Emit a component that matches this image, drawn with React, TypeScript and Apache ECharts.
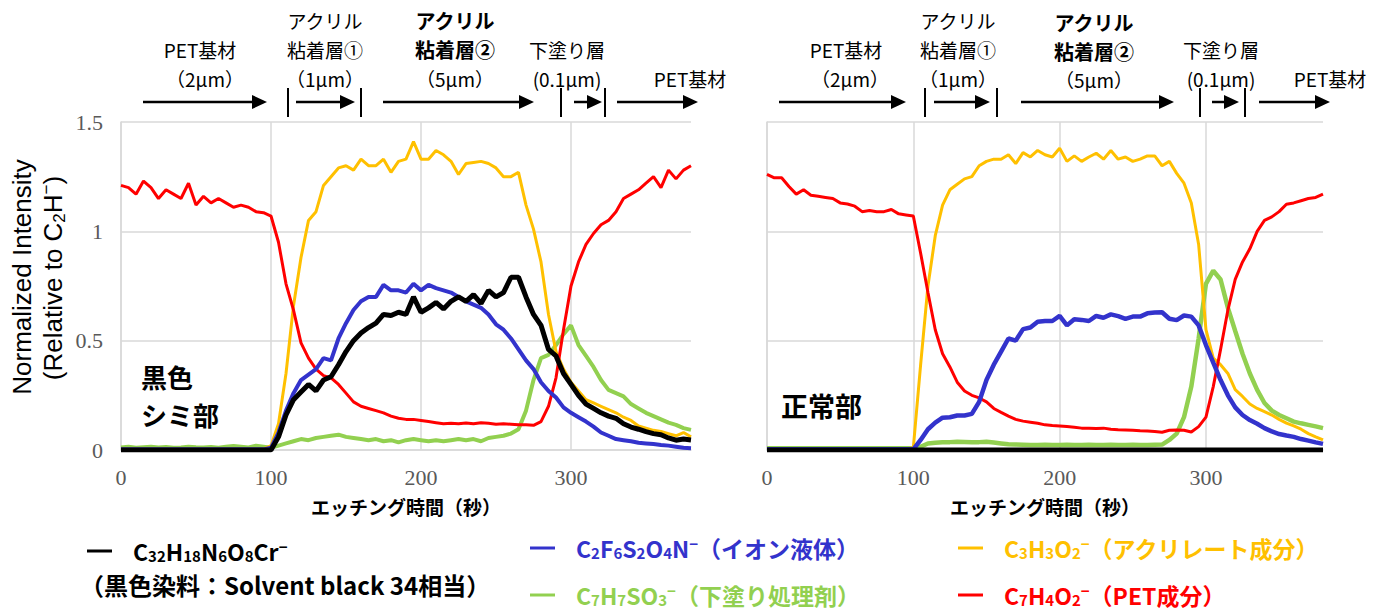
import React, { useEffect, useRef } from "react";
import * as echarts from "echarts";

// ---- data (etching time in seconds, every 5 s) ----
const TIME = [
  0, 5, 10, 15, 20, 25, 30, 35, 40, 45,
  50, 55, 60, 65, 70, 75, 80, 85, 90, 95,
  100, 105, 110, 115, 120, 125, 130, 135, 140, 145,
  150, 155, 160, 165, 170, 175, 180, 185, 190, 195,
  200, 205, 210, 215, 220, 225, 230, 235, 240, 245,
  250, 255, 260, 265, 270, 275, 280, 285, 290, 295,
  300, 305, 310, 315, 320, 325, 330, 335, 340, 345,
  350, 355, 360, 365, 370, 375, 380,
];

// Left panel (黒色シミ部)
const L_PET = [
  1.21, 1.2, 1.17, 1.23, 1.2, 1.15, 1.19, 1.17, 1.15, 1.22,
  1.12, 1.16, 1.13, 1.15, 1.13, 1.11, 1.12, 1.11, 1.09, 1.085,
  1.07, 0.95, 0.76, 0.64, 0.49, 0.42, 0.37, 0.34, 0.33, 0.3,
  0.26, 0.22, 0.2, 0.19, 0.18, 0.17, 0.155, 0.145, 0.14, 0.14,
  0.135, 0.13, 0.125, 0.12, 0.122, 0.12, 0.124, 0.12, 0.125, 0.122,
  0.118, 0.12, 0.118, 0.115, 0.116, 0.113, 0.13, 0.2, 0.33, 0.55,
  0.75, 0.86, 0.94, 0.99, 1.03, 1.05, 1.09, 1.15, 1.17, 1.19,
  1.22, 1.25, 1.2, 1.28, 1.24, 1.28, 1.3,
];
const L_ACRYL = [
  0.005, 0.005, 0.005, 0.005, 0.005, 0.005, 0.005, 0.005, 0.005, 0.005,
  0.005, 0.005, 0.005, 0.005, 0.005, 0.005, 0.005, 0.005, 0.005, 0.005,
  0.02, 0.12, 0.35, 0.66, 0.88, 1.05, 1.09, 1.21, 1.25, 1.29,
  1.3, 1.28, 1.33, 1.3, 1.3, 1.33, 1.27, 1.32, 1.33, 1.41,
  1.33, 1.33, 1.37, 1.35, 1.32, 1.26, 1.31, 1.315, 1.32, 1.31,
  1.29, 1.25, 1.25, 1.27, 1.12, 1.01, 0.86, 0.62, 0.45, 0.37,
  0.31, 0.27, 0.23, 0.215, 0.2, 0.185, 0.17, 0.15, 0.135, 0.11,
  0.1, 0.09, 0.085, 0.075, 0.065, 0.08, 0.06,
];
const L_IONIC = [
  0.003, 0.003, 0.003, 0.003, 0.003, 0.003, 0.003, 0.003, 0.003, 0.003,
  0.003, 0.003, 0.003, 0.003, 0.003, 0.003, 0.003, 0.003, 0.003, 0.003,
  0.01, 0.08, 0.18, 0.26, 0.32, 0.345, 0.37, 0.42, 0.41, 0.51,
  0.58, 0.64, 0.68, 0.7, 0.7, 0.755, 0.73, 0.73, 0.72, 0.76,
  0.73, 0.755, 0.74, 0.73, 0.72, 0.7, 0.68, 0.665, 0.65, 0.62,
  0.575, 0.55, 0.51, 0.46, 0.41, 0.37, 0.31, 0.27, 0.24, 0.195,
  0.17, 0.15, 0.13, 0.107, 0.08, 0.065, 0.05, 0.045, 0.04, 0.033,
  0.03, 0.027, 0.023, 0.02, 0.015, 0.01, 0.008,
];
const L_DYE = [
  0, 0, 0, 0, 0, 0, 0, 0, 0, 0,
  0, 0, 0, 0, 0, 0, 0, 0, 0, 0,
  0, 0.06, 0.16, 0.23, 0.265, 0.3, 0.27, 0.32, 0.335, 0.39,
  0.45, 0.5, 0.535, 0.56, 0.58, 0.62, 0.615, 0.63, 0.62, 0.7,
  0.63, 0.65, 0.675, 0.645, 0.68, 0.7, 0.68, 0.71, 0.67, 0.73,
  0.7, 0.72, 0.79, 0.79, 0.7, 0.62, 0.57, 0.46, 0.43, 0.35,
  0.3, 0.25, 0.21, 0.19, 0.17, 0.155, 0.145, 0.12, 0.105, 0.095,
  0.084, 0.075, 0.07, 0.055, 0.045, 0.05, 0.046,
];
const L_PRIMER = [
  0.012, 0.015, 0.01, 0.013, 0.015, 0.012, 0.014, 0.01, 0.012, 0.015,
  0.013, 0.012, 0.014, 0.01, 0.015, 0.018, 0.015, 0.012, 0.02, 0.015,
  0.01, 0.02, 0.03, 0.04, 0.05, 0.045, 0.055, 0.06, 0.065, 0.07,
  0.06, 0.055, 0.05, 0.045, 0.05, 0.04, 0.045, 0.035, 0.045, 0.05,
  0.045, 0.04, 0.045, 0.04, 0.045, 0.05, 0.045, 0.05, 0.04, 0.055,
  0.06, 0.065, 0.075, 0.095, 0.18, 0.32, 0.42, 0.435, 0.48, 0.53,
  0.57, 0.48, 0.43, 0.38, 0.32, 0.275, 0.26, 0.245, 0.21, 0.19,
  0.17, 0.155, 0.14, 0.125, 0.115, 0.1, 0.092,
];

// Right panel (正常部)
const R_PET = [
  1.26, 1.245, 1.245, 1.205, 1.17, 1.19, 1.165, 1.16, 1.155, 1.15,
  1.13, 1.125, 1.115, 1.09, 1.095, 1.09, 1.09, 1.1, 1.08, 1.075,
  1.07, 0.9, 0.72, 0.55, 0.44, 0.38, 0.31, 0.27, 0.25, 0.238,
  0.22, 0.19, 0.172, 0.155, 0.14, 0.132, 0.127, 0.122, 0.115, 0.112,
  0.11, 0.107, 0.104, 0.1, 0.1, 0.098, 0.1, 0.095, 0.093, 0.092,
  0.09, 0.088, 0.087, 0.085, 0.081, 0.09, 0.092, 0.09, 0.082, 0.107,
  0.15, 0.29, 0.46, 0.64, 0.78, 0.86, 0.92, 1.0, 1.05, 1.066,
  1.09, 1.124, 1.13, 1.14, 1.15, 1.155, 1.17,
];
const R_ACRYL = [
  0.005, 0.005, 0.005, 0.005, 0.005, 0.005, 0.005, 0.005, 0.005, 0.005,
  0.005, 0.005, 0.005, 0.005, 0.005, 0.005, 0.005, 0.005, 0.005, 0.005,
  0.01, 0.39, 0.75, 0.98, 1.12, 1.19, 1.215, 1.24, 1.25, 1.3,
  1.32, 1.33, 1.33, 1.35, 1.31, 1.36, 1.34, 1.37, 1.35, 1.34,
  1.38, 1.32, 1.345, 1.32, 1.34, 1.357, 1.33, 1.37, 1.33, 1.34,
  1.32, 1.33, 1.345, 1.345, 1.3, 1.32, 1.265, 1.22, 1.13, 0.94,
  0.55, 0.42, 0.39, 0.35, 0.276, 0.245, 0.21, 0.19, 0.175, 0.16,
  0.14, 0.123, 0.11, 0.095, 0.075, 0.06, 0.046,
];
const R_IONIC = [
  0.003, 0.003, 0.003, 0.003, 0.003, 0.003, 0.003, 0.003, 0.003, 0.003,
  0.003, 0.003, 0.003, 0.003, 0.003, 0.003, 0.003, 0.003, 0.003, 0.003,
  0.003, 0.046, 0.095, 0.125, 0.148, 0.15, 0.158, 0.158, 0.165, 0.22,
  0.32, 0.39, 0.45, 0.51, 0.5, 0.553, 0.56, 0.587, 0.59, 0.59,
  0.613, 0.57, 0.598, 0.595, 0.59, 0.613, 0.605, 0.62, 0.612, 0.6,
  0.61, 0.61, 0.625, 0.629, 0.63, 0.6, 0.594, 0.615, 0.61, 0.57,
  0.48, 0.4, 0.32, 0.25, 0.195, 0.16, 0.137, 0.12, 0.1, 0.085,
  0.073, 0.066, 0.06, 0.05, 0.043, 0.035, 0.028,
];
const R_DYE = [
  0, 0, 0, 0, 0, 0, 0, 0, 0, 0,
  0, 0, 0, 0, 0, 0, 0, 0, 0, 0,
  0, 0, 0, 0, 0, 0, 0, 0, 0, 0,
  0, 0, 0, 0, 0, 0, 0, 0, 0, 0,
  0, 0, 0, 0, 0, 0, 0, 0, 0, 0,
  0, 0, 0, 0, 0, 0, 0, 0, 0, 0,
  0, 0, 0, 0, 0, 0, 0, 0, 0, 0,
  0, 0, 0, 0, 0, 0, 0,
];
const R_PRIMER = [
  0.008, 0.008, 0.008, 0.008, 0.008, 0.008, 0.008, 0.008, 0.008, 0.008,
  0.008, 0.008, 0.008, 0.008, 0.008, 0.008, 0.008, 0.008, 0.008, 0.008,
  0.008, 0.015, 0.03, 0.033, 0.035, 0.036, 0.038, 0.037, 0.035, 0.036,
  0.038, 0.034, 0.03, 0.026, 0.025, 0.024, 0.023, 0.023, 0.024, 0.023,
  0.023, 0.024, 0.023, 0.023, 0.024, 0.023, 0.023, 0.024, 0.023, 0.023,
  0.024, 0.023, 0.023, 0.024, 0.025, 0.046, 0.075, 0.15, 0.29, 0.51,
  0.76, 0.82, 0.78, 0.65, 0.544, 0.44, 0.35, 0.275, 0.215, 0.18,
  0.16, 0.145, 0.13, 0.122, 0.115, 0.108, 0.1,
];

const X_MAX = 380;
const Y_MAX = 1.5;

const C_DYE = "#000000";
const C_IONIC = "#3333cc";
const C_PRIMER = "#92d050";
const C_ACRYL = "#ffc000";
const C_PET = "#ff0000";

const JP = "'Noto Sans CJK JP', 'Noto Sans', sans-serif";
const SERIF = "'Liberation Serif', 'DejaVu Serif', serif";
const SANS = "'Liberation Sans', Arial, sans-serif";
const GRID_C = "#d9d9d9";
const ANN = 19;

function text(x: number, y: number, t: string, opt: any = {}) {
  const size = opt.fontSize || ANN;
  return {
    type: "text",
    x,
    y,
    silent: true,
    rotation: opt.rotation || 0,
    style: {
      text: t,
      fill: opt.fill || "#000",
      fontSize: size,
      fontFamily: opt.fontFamily || JP,
      fontWeight: opt.fontWeight || "normal",
      lineHeight: opt.lineHeight || Math.round(size * 1.12),
      align: opt.align || "center",
      verticalAlign: "middle",
      textAlign: opt.align || "center",
      textVerticalAlign: "middle",
      rich: opt.rich,
    },
  };
}

function arrow(x1: number, x2: number, y: number) {
  return [
    { type: "line", silent: true, shape: { x1, y1: y, x2: x2 - 10, y2: y }, style: { stroke: "#000", lineWidth: 2.5 } },
    {
      type: "polygon",
      silent: true,
      shape: { points: [[x2 - 15, y - 7], [x2, y], [x2 - 15, y + 7]] },
      style: { fill: "#000" },
    },
  ];
}

function tick(x: number) {
  return { type: "line", silent: true, shape: { x1: x, y1: 88, x2: x, y2: 117 }, style: { stroke: "#000", lineWidth: 2 } };
}

function richStyles(color: string, size: number, family: string, weight: string, lh: number) {
  const sub = Math.round(size * 0.66);
  return {
    n: { fontSize: size, fontFamily: family, fontWeight: weight, fill: color, lineHeight: lh },
    s: { fontSize: sub, fontFamily: family, fontWeight: weight, fill: color, verticalAlign: "bottom" },
    p: { fontSize: sub, fontFamily: family, fontWeight: weight, fill: color, verticalAlign: "top" },
  };
}

function formula(parts: [string, string][]) {
  return parts.map(([k, v]) => `{${k}|${v}}`).join("");
}

function legendItem(x: number, y: number, color: string, parts: [string, string][]) {
  return [
    { type: "line", silent: true, shape: { x1: x, y1: y, x2: x + 25, y2: y }, style: { stroke: color, lineWidth: 3 } },
    text(x + 46, y, formula(parts), { align: "left", fontSize: 23, lineHeight: 24, rich: richStyles(color, 23, JP, "bold", 24) }),
  ];
}

function mkSeries(name: string, values: number[], color: string, width: number, idx: number, z: number) {
  return {
    type: "line",
    name,
    xAxisIndex: idx,
    yAxisIndex: idx,
    data: TIME.map((t, i) => [t, values[i]]),
    symbol: "none",
    showSymbol: false,
    lineStyle: { color, width },
    itemStyle: { color },
    z,
    silent: true,
  };
}

function xAxis(idx: number) {
  return {
    type: "value",
    gridIndex: idx,
    min: 0,
    max: X_MAX,
    interval: 100,
    axisLine: { show: true, lineStyle: { color: GRID_C, width: 1.5 } },
    axisTick: { show: false },
    axisLabel: { color: "#595959", fontSize: 22, fontFamily: SERIF, margin: 16, showMaxLabel: false },
    splitLine: {
      show: true,
      showMaxLine: false,
      lineStyle: { color: [GRID_C, GRID_C, GRID_C, GRID_C, "rgba(0,0,0,0)"], width: 1.5 },
    },
    name: "エッチング時間（秒）",
    nameLocation: "middle",
    nameGap: 47,
    nameTextStyle: { color: "#000", fontSize: 19, fontWeight: "bold", fontFamily: JP },
  };
}

function yAxis(idx: number, labels: boolean) {
  return {
    type: "value",
    gridIndex: idx,
    min: 0,
    max: Y_MAX,
    interval: 0.5,
    axisLine: { show: true, lineStyle: { color: GRID_C, width: 1.5 } },
    axisTick: { show: false },
    axisLabel: { show: labels, color: "#595959", fontSize: 22, fontFamily: SERIF, margin: 18 },
    splitLine: { show: true, lineStyle: { color: GRID_C, width: 1.5 } },
  };
}

export default function App() {
  const ref = useRef<HTMLDivElement>(null);

  useEffect(() => {
    if (!ref.current) return;
    const chart = echarts.init(ref.current, undefined, { renderer: "svg" });

    const R1 = 20;
    const R2 = 49;
    const R3 = 78;
    const graphics: any[] = [];
    // ---- left panel annotations ----
    graphics.push(text(200, R2, "PET基材"), text(205, R3, "（2μm）"));
    graphics.push(text(325, R1, "アクリル"), text(325, R2, "粘着層①"), text(325, R3, "（1μm）"));
    graphics.push(
      text(455, R1, "アクリル", { fontWeight: "bold", fontSize: 20 }),
      text(455, R2, "粘着層②", { fontWeight: "bold", fontSize: 20 }),
      text(455, R3, "（5μm）")
    );
    graphics.push(text(567, R2, "下塗り層"), text(567, R3, "(0.1μm)"));
    graphics.push(text(690, R3, "PET基材"));
    graphics.push(...arrow(143, 267, 102), ...arrow(296, 355, 102), ...arrow(383, 534, 102), ...arrow(574, 602, 102), ...arrow(617, 698, 102));
    graphics.push(tick(288), tick(361), tick(561), tick(605));

    // ---- right panel annotations ----
    graphics.push(text(846, R2, "PET基材"), text(850, R3, "（2μm）"));
    graphics.push(text(958, R1, "アクリル"), text(958, R2, "粘着層①"), text(958, R3, "（1μm）"));
    graphics.push(
      text(1094, R1 + 2, "アクリル", { fontWeight: "bold", fontSize: 20 }),
      text(1094, R2 + 2, "粘着層②", { fontWeight: "bold", fontSize: 20 }),
      text(1094, R3 + 1, "（5μm）")
    );
    graphics.push(text(1221, R2, "下塗り層"), text(1221, R3, "(0.1μm)"));
    graphics.push(text(1330, R3, "PET基材"));
    graphics.push(...arrow(779, 906, 102), ...arrow(934, 990, 102), ...arrow(1021, 1174, 102), ...arrow(1212, 1239, 102), ...arrow(1259, 1330, 102));
    graphics.push(tick(925), tick(997), tick(1200), tick(1245));

    // ---- panel labels ----
    graphics.push(
      text(141, 376, "黒色", { align: "left", fontSize: 26, lineHeight: 30, fontWeight: "bold" }),
      text(141, 414, "シミ部", { align: "left", fontSize: 26, lineHeight: 30, fontWeight: "bold" }),
      text(781, 405, "正常部", { align: "left", fontSize: 27, lineHeight: 30, fontWeight: "bold" })
    );

    // ---- y axis title ----
    graphics.push(text(22, 277, "Normalized Intensity", { fontFamily: SANS, fontSize: 26, lineHeight: 28, rotation: Math.PI / 2 }));
    graphics.push(
      text(
        53,
        278,
        formula([["n", "(Relative to C"], ["s", "2"], ["n", "H"], ["p", "−"], ["n", ")"]]),
        { fontFamily: SANS, fontSize: 26, lineHeight: 30, rotation: Math.PI / 2, rich: richStyles("#000", 26, SANS, "normal", 30) }
      )
    );

    // ---- legend ----
    graphics.push(
      ...legendItem(87, 551, C_DYE, [
        ["n", "C"], ["s", "32"], ["n", "H"], ["s", "18"], ["n", "N"], ["s", "6"], ["n", "O"], ["s", "8"], ["n", "Cr"], ["p", "−"],
      ])
    );
    graphics.push(text(80, 584, "（黒色染料：Solvent black 34相当）", { align: "left", fontSize: 24, lineHeight: 26, fontWeight: "bold" }));
    graphics.push(
      ...legendItem(530, 548, C_IONIC, [
        ["n", "C"], ["s", "2"], ["n", "F"], ["s", "6"], ["n", "S"], ["s", "2"], ["n", "O"], ["s", "4"], ["n", "N"], ["p", "−"], ["n", "（イオン液体）"],
      ])
    );
    graphics.push(
      ...legendItem(530, 595, C_PRIMER, [
        ["n", "C"], ["s", "7"], ["n", "H"], ["s", "7"], ["n", "SO"], ["s", "3"], ["p", "−"], ["n", "（下塗り処理剤）"],
      ])
    );
    graphics.push(
      ...legendItem(958, 548, C_ACRYL, [
        ["n", "C"], ["s", "3"], ["n", "H"], ["s", "3"], ["n", "O"], ["s", "2"], ["p", "−"], ["n", "（アクリレート成分）"],
      ])
    );
    graphics.push(
      ...legendItem(958, 595, C_PET, [
        ["n", "C"], ["s", "7"], ["n", "H"], ["s", "4"], ["n", "O"], ["s", "2"], ["p", "−"], ["n", "（PET成分）"],
      ])
    );

    const option: any = {
      animation: false,
      backgroundColor: "#ffffff",
      grid: [
        { left: 121, top: 122, width: 570, height: 328 },
        { left: 767, top: 122, width: 556, height: 328 },
      ],
      xAxis: [xAxis(0), xAxis(1)],
      yAxis: [yAxis(0, true), yAxis(1, false)],
      series: [
        mkSeries("C7H7SO3- left", L_PRIMER, C_PRIMER, 4, 0, 2),
        mkSeries("C3H3O2- left", L_ACRYL, C_ACRYL, 3, 0, 3),
        mkSeries("C7H4O2- left", L_PET, C_PET, 3, 0, 4),
        mkSeries("C2F6S2O4N- left", L_IONIC, C_IONIC, 4, 0, 5),
        mkSeries("C32H18N6O8Cr- left", L_DYE, C_DYE, 5, 0, 6),
        mkSeries("C7H7SO3- right", R_PRIMER, C_PRIMER, 4.5, 1, 2),
        mkSeries("C3H3O2- right", R_ACRYL, C_ACRYL, 3, 1, 3),
        mkSeries("C7H4O2- right", R_PET, C_PET, 3, 1, 4),
        mkSeries("C2F6S2O4N- right", R_IONIC, C_IONIC, 4.5, 1, 5),
        mkSeries("C32H18N6O8Cr- right", R_DYE, C_DYE, 5, 1, 6),
      ],
      graphic: graphics,
    };

    chart.setOption(option);
    return () => chart.dispose();
  }, []);

  return (
    <div
      ref={ref}
      style={{ position: "absolute", left: 0, top: 0, width: 1378, height: 611, background: "#fff" }}
    />
  );
}
